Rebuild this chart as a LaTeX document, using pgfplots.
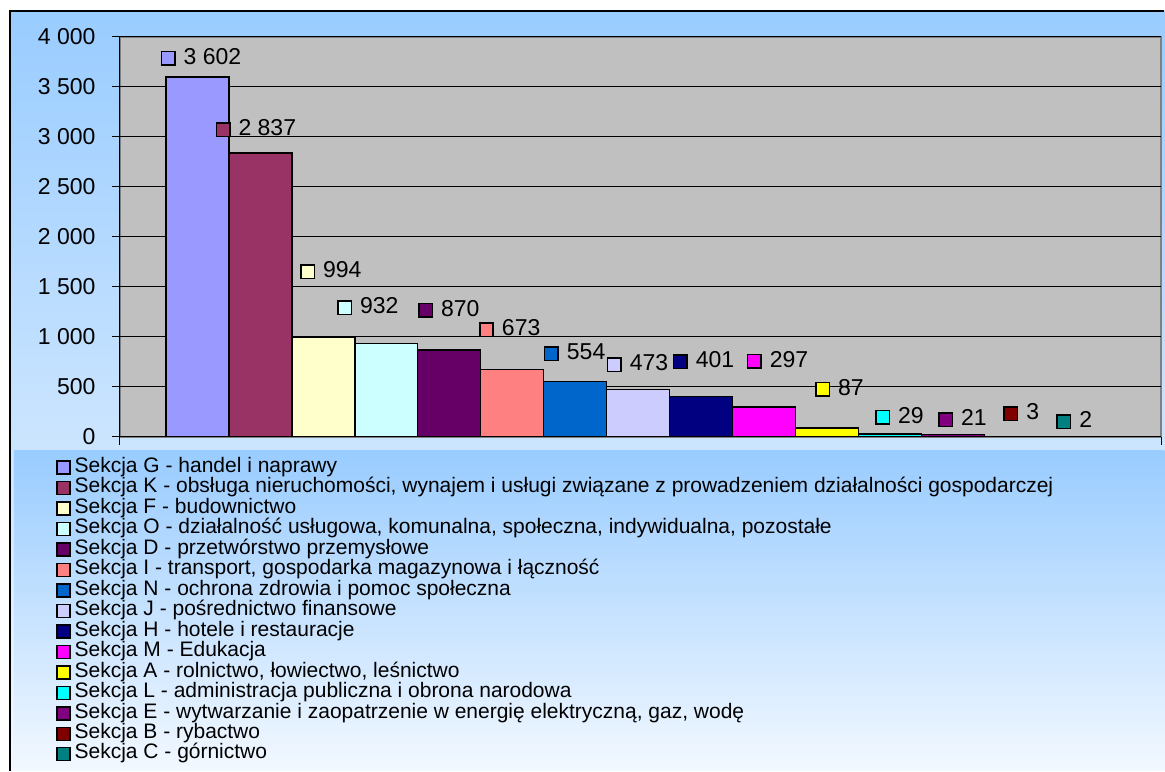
\documentclass[border=0pt]{standalone}
\usepackage{fontspec}
\setmainfont{Liberation Sans}
\usepackage{pgfplots}
\pgfplotsset{compat=1.18}
\definecolor{cTop}{HTML}{99CCFF}
\definecolor{cBot}{HTML}{F2F8FF}
\definecolor{plotgray}{HTML}{C0C0C0}
\definecolor{bordgray}{HTML}{808080}
\definecolor{cG}{HTML}{9999FF}
\definecolor{cK}{HTML}{993366}
\definecolor{cF}{HTML}{FFFFCC}
\definecolor{cO}{HTML}{CCFFFF}
\definecolor{cD}{HTML}{660066}
\definecolor{cI}{HTML}{FF8080}
\definecolor{cN}{HTML}{0066CC}
\definecolor{cJ}{HTML}{CCCCFF}
\definecolor{cH}{HTML}{000080}
\definecolor{cM}{HTML}{FF00FF}
\definecolor{cA}{HTML}{FFFF00}
\definecolor{cL}{HTML}{00FFFF}
\definecolor{cE}{HTML}{800080}
\definecolor{cB}{HTML}{800000}
\definecolor{cC}{HTML}{008080}
\newcommand{\lblfont}{\fontsize{23}{23}\selectfont}
\newcommand{\lbl}[2]{{\fboxsep=0pt\fboxrule=1.5pt\fcolorbox{black}{#1}{\rule{0pt}{12pt}\hspace{12pt}}}\hspace{8pt}#2}
\newcommand{\mkbar}[6]{%
\addplot[ybar, bar width=1, bar shift=0pt, fill=#3, draw=black, line width=1.5pt,
  nodes near coords={\lbl{#3}{#4}},
  every node near coord/.append style={anchor=center, xshift=#5pt, yshift=#6pt, font=\lblfont, text=black, inner sep=0pt}]
  coordinates {(#1,#2)};}
\begin{document}
\begin{tikzpicture}
\path[fill=white] (0pt,0pt) rectangle (1165pt,-771pt);
\shade[top color=cTop, bottom color=cBot] (10pt,-11pt) rectangle (1165pt,-771pt);
\draw[black, line width=1.5pt] (10pt,-771pt) -- (10pt,-11pt) -- (1165pt,-11pt);
\shade[top color=cTop, bottom color=cBot] (14pt,-451pt) rectangle (1165pt,-771pt);
\begin{axis}[
  at={(120pt,-437pt)}, anchor=south west,
  width=1042pt, height=400pt, scale only axis,
  xmin=-0.2302, xmax=16.3095, ymin=0, ymax=4000,
  axis x line=bottom, axis y line=left,
  axis line style={-, black, line width=1pt},
  axis background/.style={fill=plotgray, draw=bordgray, line width=2pt},
  ytick={0,500,...,4000}, ymajorgrids,
  grid style={black, line width=1pt},
  xtick={-0.2302,16.3095}, xticklabels={},
  tick align=outside, major tick length=8pt,
  tick style={black, line width=1pt},
  yticklabel style={font=\lblfont, xshift=-13pt, /pgf/number format/1000 sep={\ }, /pgf/number format/assume math mode=true},
  legend style={at={(-0.0643,-0.0469)}, anchor=north west, draw=none, fill=none,
    font=\fontsize{21}{20.5}\selectfont, row sep=0pt, column sep=0pt,
    nodes={inner sep=0pt, text height=14.5pt, text depth=6pt}},
  legend cell align=left,
  legend image code/.code={\draw[#1, draw=black, line width=1.5pt] (0pt,-6pt) rectangle (13pt,7pt); \path (17pt,0pt);},
]
\mkbar{1}{3602}{cG}{3 602}{3.5}{20}
\mkbar{2}{2837}{cK}{2 837}{-4.5}{25}
\mkbar{3}{994}{cF}{994}{7.5}{67}
\mkbar{4}{932}{cO}{932}{-18.5}{37}
\mkbar{5}{870}{cD}{870}{-0.5}{41}
\mkbar{6}{673}{cI}{673}{-2.5}{41}
\mkbar{7}{554}{cN}{554}{-0.5}{29}
\mkbar{8}{473}{cJ}{473}{-0.5}{26}
\mkbar{9}{401}{cH}{401}{2.5}{36}
\mkbar{10}{297}{cM}{297}{13.5}{47}
\mkbar{11}{87}{cA}{87}{12.5}{40}
\mkbar{12}{29}{cL}{29}{9.5}{18}
\mkbar{13}{21}{cE}{21}{9.5}{16}
\mkbar{14}{3}{cB}{3}{5.5}{24}
\mkbar{15}{2}{cC}{2}{-4.5}{16}
\legend{
Sekcja G - handel i naprawy,
{Sekcja K - obsługa nieruchomości, wynajem i usługi związane z prowadzeniem działalności gospodarczej},
Sekcja F - budownictwo,
{Sekcja O - działalność usługowa, komunalna, społeczna, indywidualna, pozostałe},
Sekcja D - przetwórstwo przemysłowe,
{Sekcja I - transport, gospodarka magazynowa i łączność},
Sekcja N - ochrona zdrowia i pomoc społeczna,
Sekcja J - pośrednictwo finansowe,
Sekcja H - hotele i restauracje,
Sekcja M - Edukacja,
{Sekcja A - rolnictwo, łowiectwo, leśnictwo},
Sekcja L - administracja publiczna i obrona narodowa,
{Sekcja E - wytwarzanie i zaopatrzenie w energię elektryczną, gaz, wodę},
Sekcja B - rybactwo,
Sekcja C - górnictwo}
\end{axis}
\end{tikzpicture}
\end{document}
